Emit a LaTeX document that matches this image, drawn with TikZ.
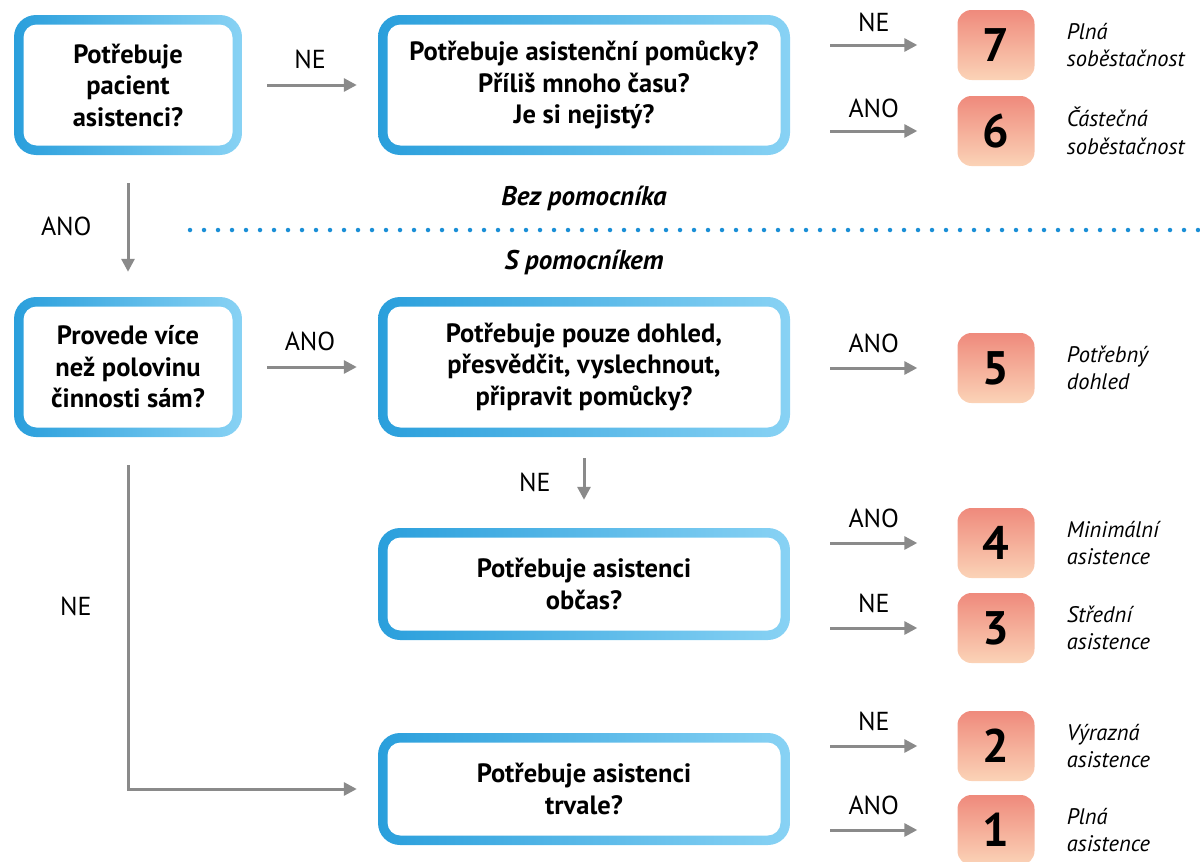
\documentclass[tikz,border=0pt]{standalone}
\usepackage{fontspec}
\setmainfont{PT Sans}
\usepackage{xcolor}
\usepackage{tikz}
\usetikzlibrary{calc,positioning,arrows.meta}

\definecolor{boxdark}{HTML}{2A9FDC}
\definecolor{boxlight}{HTML}{88D2F4}
\definecolor{numtop}{HTML}{EF8A7C}
\definecolor{numbot}{HTML}{FBD3B7}
\definecolor{arrowgray}{HTML}{8A8A8A}
\definecolor{dotblue}{HTML}{1B8FD6}

\tikzset{
  question/.style={rounded corners=22pt, left color=boxdark, right color=boxlight,
    minimum height=140pt, inner sep=0pt, align=center,
    font=\fontsize{26.5}{31.5}\selectfont\bfseries,
    path picture={\fill[white, rounded corners=13pt]
      ($(path picture bounding box.south west)+(9.5pt,9.5pt)$) rectangle
      ($(path picture bounding box.north east)-(9.5pt,9.5pt)$);}},
  level/.style={rounded corners=14pt, top color=numtop, bottom color=numbot,
    minimum width=77pt, minimum height=70pt, inner sep=0pt,
    font=\fontsize{47}{47}\selectfont\bfseries},
  outcome/.style={inner sep=0pt, align=left, font=\fontsize{22.5}{27.5}\selectfont\itshape},
  flow/.style={arrowgray, line width=3pt, -{Triangle[length=13pt,width=13pt]}},
  answer/.style={inner sep=0pt, text=black, font=\fontsize{26}{26}\selectfont},
}

\begin{document}
\begin{tikzpicture}[x=1pt,y=-1pt]
\useasboundingbox (0,0) rectangle (1200,862);
\clip (0,0) rectangle (1200,862);

% Question boxes
\node[question, minimum width=228pt] (pac) at (128,85) {Potřebuje\\pacient\\asistenci?};
\node[question, minimum width=412pt] (pom) at (584,85) {Potřebuje asistenční pomůcky?\\Příliš mnoho času?\\Je si nejistý?};
\node[question, minimum width=228pt] (pol) at (128,367) {Provede více\\než polovinu\\činnosti sám?};
\node[question, minimum width=412pt] (doh) at (584,367) {Potřebuje pouze dohled,\\přesvědčit, vyslechnout,\\připravit pomůcky?};
\node[question, minimum width=412pt, minimum height=112pt] (obc) at (584,584) {Potřebuje asistenci\\občas?};
\node[question, minimum width=412pt, minimum height=112pt] (trv) at (584,789) {Potřebuje asistenci\\trvale?};

% Levels 7 .. 1
\node[level] (n7) at (996,45) {7};
\node[level] (n6) at (996,131) {6};
\node[level] (n5) at (996,368) {5};
\node[level] (n4) at (996,543) {4};
\node[level] (n3) at (996,628) {3};
\node[level] (n2) at (996,746) {2};
\node[level] (n1) at (996,830) {1};

\node[outcome, right=32pt of n7] (t7) {Plná\\soběstačnost};
\node[outcome, right=32pt of n6] (t6) {Částečná\\soběstačnost};
\node[outcome, right=32pt of n5] (t5) {Potřebný\\dohled};
\node[outcome, right=32pt of n4] (t4) {Minimální\\asistence};
\node[outcome, right=32pt of n3] (t3) {Střední\\asistence};
\node[outcome, right=32pt of n2] (t2) {Výrazná\\asistence};
\node[outcome, right=32pt of n1] (t1) {Plná\\asistence};

% Without / with helper
\draw[dotblue, line width=4.5pt, line cap=round, dash pattern=on 0pt off 14pt] (190,230) -- (1200,230);
\node[font=\fontsize{27}{27}\selectfont\bfseries\itshape] (bez) at (584,198) {Bez pomocníka};
\node[font=\fontsize{27}{27}\selectfont\bfseries\itshape] (spo) at (584,262) {S pomocníkem};

% Arrows between questions
\draw[flow, shorten <=25pt, shorten >=21pt] (pac) -- node[answer, midway, above=15pt] {NE} (pom);
\draw[flow, shorten <=28pt, shorten >=25pt] (pac) -- node[answer, midway, left=35pt] {ANO} (pol);
\draw[flow, shorten <=25pt, shorten >=21pt] (pol) -- node[answer, midway, above=15pt] {ANO} (doh);
\draw[flow, shorten <=21pt, shorten >=28pt] (doh) -- node[answer, midway, left=32pt] {NE} (obc);
\draw[flow, shorten <=28pt, shorten >=21pt] (pol.south) |- node[answer, pos=0.24, left=35pt] {NE} (trv.west);

% Arrows to levels
\draw[flow, shorten <=40pt, shorten >=40pt] (pom.east |- n7) -- node[answer, midway, above=12pt] {NE} (n7);
\draw[flow, shorten <=40pt, shorten >=40pt] (pom.east |- n6) -- node[answer, midway, above=12pt] {ANO} (n6);
\draw[flow, shorten <=40pt, shorten >=40pt] (doh.east |- n5) -- node[answer, midway, above=14pt] {ANO} (n5);
\draw[flow, shorten <=40pt, shorten >=40pt] (obc.east |- n4) -- node[answer, midway, above=14pt] {ANO} (n4);
\draw[flow, shorten <=40pt, shorten >=40pt] (obc.east |- n3) -- node[answer, midway, above=14pt] {NE} (n3);
\draw[flow, shorten <=40pt, shorten >=40pt] (trv.east |- n2) -- node[answer, midway, above=14pt] {NE} (n2);
\draw[flow, shorten <=40pt, shorten >=40pt] (trv.east |- n1) -- node[answer, midway, above=14pt] {ANO} (n1);
\end{tikzpicture}
\end{document}
